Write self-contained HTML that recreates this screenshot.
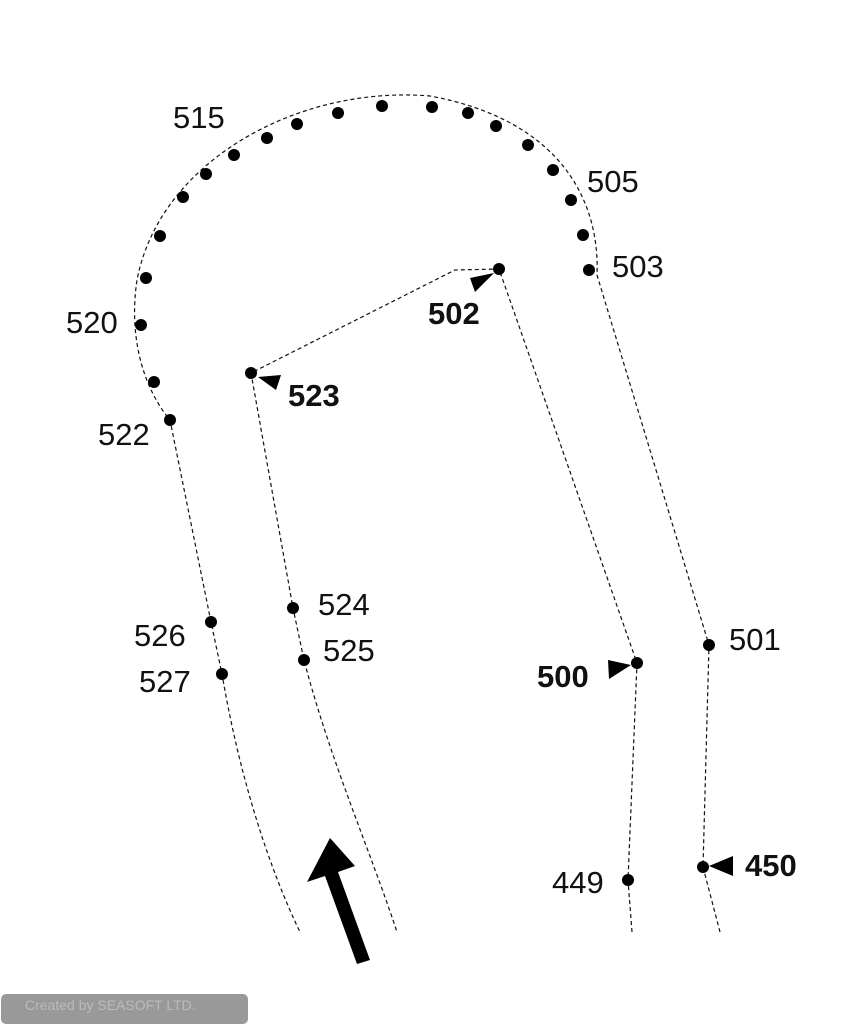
<!DOCTYPE html>
<html><head><style>
body{margin:0;background:#fff;width:846px;height:1024px;overflow:hidden;position:relative}
svg{position:absolute;left:0;top:0}
text{font-family:"Liberation Sans",sans-serif;font-size:31px;fill:#111}
.b{font-weight:bold}
</style></head><body>
<svg width="846" height="1024" viewBox="0 0 846 1024">
<g fill="none" stroke="#111" stroke-width="1.2" stroke-dasharray="4,3">
<path d="M720,932 L703,867 L709,645 L597,275 C600,200 560,120 430,96 C300,85 160,160 137,280 C128,340 145,390 170,420 L211,622 L222,674 C240,780 270,870 300,932"/>
<path d="M632,932 L628,880 L637,663 L499,269 L455,270 L251,373 L293,608 L304,660 C330,760 370,850 397,932"/>
</g>
<g fill="#000">
<circle cx="589" cy="270" r="6"/><circle cx="583" cy="235" r="6"/><circle cx="571" cy="200" r="6"/><circle cx="553" cy="170" r="6"/><circle cx="528" cy="145" r="6"/><circle cx="496" cy="126" r="6"/><circle cx="468" cy="113" r="6"/><circle cx="432" cy="107" r="6"/><circle cx="382" cy="106" r="6"/><circle cx="338" cy="113" r="6"/><circle cx="297" cy="124" r="6"/><circle cx="267" cy="138" r="6"/><circle cx="234" cy="155" r="6"/><circle cx="206" cy="174" r="6"/><circle cx="183" cy="197" r="6"/><circle cx="160" cy="236" r="6"/><circle cx="146" cy="278" r="6"/><circle cx="141" cy="325" r="6"/><circle cx="154" cy="382" r="6"/><circle cx="170" cy="420" r="6"/>
<circle cx="499" cy="269" r="6"/><circle cx="251" cy="373" r="6"/><circle cx="293" cy="608" r="6"/><circle cx="304" cy="660" r="6"/><circle cx="211" cy="622" r="6"/><circle cx="222" cy="674" r="6"/><circle cx="637" cy="663" r="6"/><circle cx="709" cy="645" r="6"/><circle cx="628" cy="880" r="6"/><circle cx="703" cy="867" r="6"/>
<polygon points="494,273 470,278 475,292"/>
<polygon points="258,377 281,375 276,390"/>
<polygon points="631,665 608,660 609,679"/>
<polygon points="709,866 733,856 733,876"/>
<polygon points="330,838 307,882 325,876 357,964 370,960 338,872 355,866"/>
</g>
<text x="173" y="128">515</text>
<text x="587" y="192">505</text>
<text x="612" y="277">503</text>
<text x="66" y="333">520</text>
<text x="98" y="445">522</text>
<text class="b" x="428" y="324">502</text>
<text class="b" x="288" y="406">523</text>
<text x="318" y="615">524</text>
<text x="323" y="661">525</text>
<text x="134" y="646">526</text>
<text x="139" y="692">527</text>
<text class="b" x="537" y="687">500</text>
<text x="729" y="650">501</text>
<text x="552" y="893">449</text>
<text class="b" x="745" y="876">450</text>
</svg>
<div style="position:absolute;left:1px;top:994px;width:247px;height:30px;background:#999;border-radius:5px;color:#bbb;font:14px 'Liberation Sans',sans-serif;line-height:22px;padding-left:24px;box-sizing:border-box">Created by SEASOFT LTD.</div>
</body></html>
